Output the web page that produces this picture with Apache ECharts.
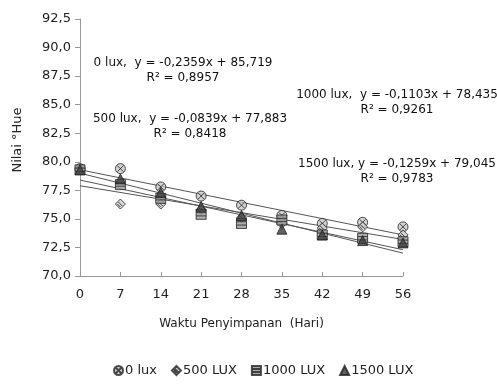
<!DOCTYPE html>
<html>
<head>
<meta charset="utf-8">
<script src="https://cdn.jsdelivr.net/npm/echarts@6/dist/echarts.min.js"></script>
<style>
  html, body { margin: 0; padding: 0; background: #fff; }
  #chart { width: 497px; height: 391px; }
</style>
</head>
<body>
<div id="chart"></div>
<script>
// hari penyimpanan
const days = [0, 7, 14, 21, 28, 35, 42, 49, 56];
const seriesNames = ['0 lux', '500 LUX', '1000 LUX', '1500 LUX'];
// nilai °Hue
const hue0 = [79.4, 79.4, 77.8, 77.0, 76.2, 75.3, 74.6, 74.7, 74.3];
const hue500 = [79.3, 76.3, 76.3, 75.8, 75.1, 74.6, 74.2, 74.3, 73.6];
const hue1000 = [79.3, 78.0, 76.8, 75.4, 74.6, 74.9, 73.6, 73.3, 73.0];
const hue1500 = [79.3, 78.5, 77.3, 76.1, 75.3, 74.1, 73.6, 73.1, 72.9];
// garis tren: nilai di hari 0 dan hari 56
const trendStart = [79.3, 77.9, 78.4, 79.0];
const trendEnd = [73.6, 73.2, 72.3, 72.0];
const yTicks = ['70,0', '72,5', '75,0', '77,5', '80,0', '82,5', '85,0', '87,5', '90,0', '92,5'];
const equations = [
  ['0 lux,  y = -0,2359x + 85,719', 'R² = 0,8957'],
  ['500 lux,  y = -0,0839x + 77,883', 'R² = 0,8418'],
  ['1000 lux,  y = -0,1103x + 78,435', 'R² = 0,9261'],
  ['1500 lux, y = -0,1259x + 79,045', 'R² = 0,9783']
];

const symbols = [
  'path://M5,0 A5,5 0 1,1 5,10 A5,5 0 1,1 5,0 Z M2,2 L8,8 M8,2 L2,8',
  'path://M5,0 L10,5 L5,10 L0,5 Z M3,3 L7,7 M2,5 L5,8',
  'path://M0,0 H10 V10 H0 Z M0,3.3 H10 M0,6.6 H10',
  'triangle'
];
const fills = ['#c8c8c8', '#d0d0d0', '#9a9a9a', '#3a3a3a'];
const hueData = [hue0, hue500, hue1000, hue1500];

const chart = echarts.init(document.getElementById('chart'));
const font = 'DejaVu Sans, sans-serif';

const series = [];
// garis tren dulu (di bawah titik)
trendStart.forEach(function (s, i) {
  series.push({
    name: 'trend' + i,
    type: 'line',
    data: [[days[0], s], [days[days.length - 1], trendEnd[i]]],
    symbol: 'none',
    silent: true,
    lineStyle: { color: '#555', width: 1 },
    z: 1
  });
});
hueData.forEach(function (vals, i) {
  series.push({
    name: seriesNames[i],
    type: 'scatter',
    data: vals.map(function (v, k) { return [days[k], v]; }),
    symbol: symbols[i],
    symbolSize: 10,
    itemStyle: { color: fills[i], borderColor: '#222', borderWidth: 1 },
    z: 3
  });
});

// teks persamaan
const eqPos = [
  { x: 183, y: 62 },
  { x: 190, y: 118 },
  { x: 397, y: 94 },
  { x: 397, y: 163 }
];
const graphics = equations.map(function (eq, i) {
  return {
    type: 'text',
    x: eqPos[i].x,
    y: eqPos[i].y + 8,
    style: {
      text: eq[0] + '\n' + eq[1],
      font: '12px ' + font,
      fill: '#111',
      align: 'center',
      verticalAlign: 'middle',
      lineHeight: 15
    }
  };
});
// judul sumbu y
graphics.push({
  type: 'text',
  x: 18, y: 140,
  rotation: Math.PI / 2,
  style: {
    text: 'Nilai °Hue',
    font: '13px ' + font,
    fill: '#222',
    align: 'center',
    verticalAlign: 'middle'
  }
});

chart.setOption({
  animation: false,
  backgroundColor: '#fff',
  textStyle: { fontFamily: font },
  grid: { left: 80, right: 94, top: 19, bottom: 115 },
  legend: {
    data: seriesNames,
    bottom: 9,
    left: 108,
    itemWidth: 9,
    itemHeight: 9,
    itemGap: 14,
    textStyle: { fontSize: 13, color: '#222', padding: [0, 0, 0, -3] }
  },
  xAxis: {
    type: 'value',
    min: 0, max: 56, interval: 7,
    name: 'Waktu Penyimpanan  (Hari)',
    nameLocation: 'middle',
    nameGap: 42,
    nameTextStyle: { fontSize: 12, color: '#222' },
    axisLine: { lineStyle: { color: '#999' } },
    axisTick: { inside: true, length: 4, lineStyle: { color: '#999' } },
    axisLabel: { fontSize: 13, color: '#222', margin: 12 },
    splitLine: { show: false }
  },
  yAxis: {
    type: 'value',
    min: 70, max: 92.5, interval: 2.5,
    axisLine: { show: true, lineStyle: { color: '#999' } },
    axisTick: { show: true, length: 5, lineStyle: { color: '#999' } },
    axisLabel: {
      fontSize: 13, color: '#222', margin: 9,
      formatter: function (v) { return yTicks[Math.round((v - 70) / 2.5)]; }
    },
    splitLine: { show: false }
  },
  graphic: graphics,
  series: series
});
</script>
</body>
</html>
